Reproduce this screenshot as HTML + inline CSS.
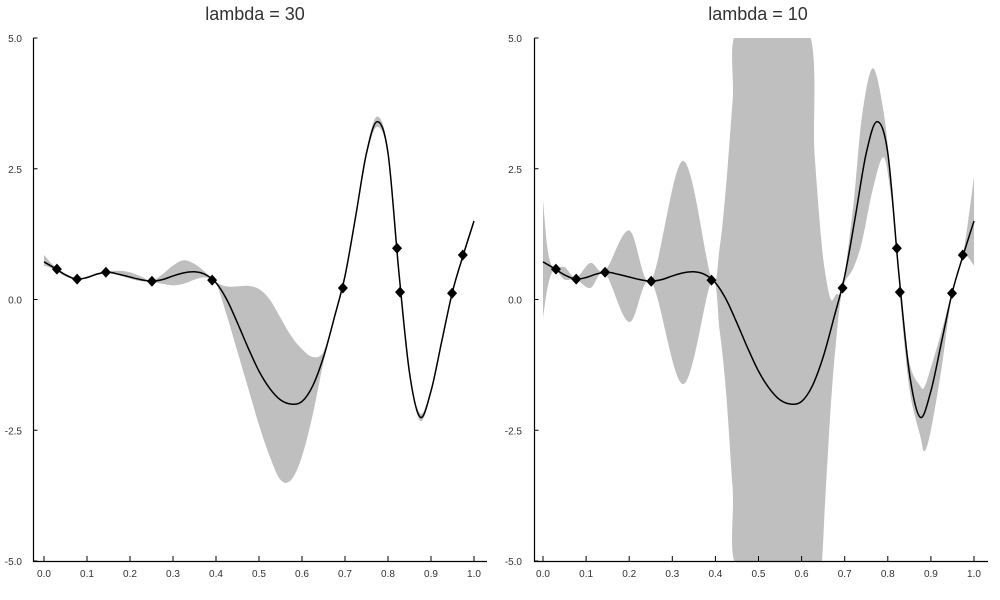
<!DOCTYPE html>
<html><head><meta charset="utf-8"><style>
body{margin:0;background:#fff;}
svg{display:block;font-family:"Liberation Sans",sans-serif;}
</style></head><body>
<svg id="chart" width="1000" height="600" viewBox="0 0 1000 600" xmlns="http://www.w3.org/2000/svg"></svg>
<script>
const meanX = [0,0.025,0.05,0.075,0.1,0.125,0.15,0.175,0.2,0.225,0.25,0.275,0.3,0.325,0.35,0.375,0.4,0.425,0.45,0.475,0.5,0.525,0.55,0.575,0.6,0.625,0.65,0.675,0.7,0.725,0.75,0.775,0.8,0.825,0.85,0.875,0.9,0.925,0.95,0.975,1.0];
const meanY = [0.72,0.60,0.47,0.39,0.42,0.49,0.52,0.48,0.43,0.38,0.35,0.38,0.45,0.51,0.53,0.48,0.32,0.0,-0.45,-0.93,-1.37,-1.70,-1.92,-2.0,-1.95,-1.65,-1.1,-0.35,0.45,1.6,2.8,3.4,2.8,0.55,-1.4,-2.25,-1.75,-0.8,0.15,0.85,1.5];
const upper30 = [0.85,0.63,0.5,0.4,0.44,0.51,0.54,0.55,0.52,0.44,0.36,0.48,0.65,0.75,0.68,0.52,0.33,0.25,0.25,0.26,0.2,0.0,-0.35,-0.7,-0.95,-1.1,-1.0,-0.33,0.5,1.65,2.86,3.5,2.86,0.6,-1.35,-2.18,-1.7,-0.75,0.2,0.9,1.55];
const lower30 = [0.65,0.57,0.44,0.38,0.4,0.47,0.5,0.46,0.4,0.35,0.34,0.3,0.27,0.3,0.38,0.42,0.3,-0.3,-1.0,-1.7,-2.4,-3.0,-3.45,-3.45,-3.0,-2.2,-1.2,-0.4,0.4,1.55,2.74,3.3,2.74,0.5,-1.45,-2.32,-1.8,-0.85,0.1,0.8,1.45];
const band10X = [0,0.01,0.02,0.03,0.05,0.077,0.11,0.144,0.2,0.251,0.325,0.391,0.41,0.425,0.44,0.455,0.612,0.63,0.645,0.655,0.668,0.68,0.695,0.72,0.74,0.765,0.79,0.807,0.822,0.828,0.85,0.875,0.885,0.9,0.925,0.949,0.975,1.0];
const upper10 = [1.9,1.0,0.65,0.6,0.62,0.42,0.7,0.55,1.32,0.37,2.65,0.4,1.0,2.2,3.8,5.2,5.2,2.8,1.2,0.5,0.0,0.1,0.25,1.8,3.5,4.42,3.6,2.34,0.95,0.2,-1.2,-1.65,-1.67,-1.3,-0.6,0.15,0.88,2.35];
const lower10 = [-0.35,0.2,0.5,0.56,0.38,0.38,0.22,0.5,-0.43,0.34,-1.62,0.35,-0.6,-1.8,-3.6,-5.2,-5.2,-5.2,-5.2,-3.8,-2.0,-0.8,0.2,0.6,1.1,2.1,2.72,2.0,0.9,0.1,-1.7,-2.6,-2.9,-2.5,-1.3,0.1,0.82,0.65];
const obsX = [0.030,0.077,0.144,0.251,0.391,0.695,0.821,0.828,0.949,0.974];
const obsY = [0.58,0.39,0.52,0.35,0.37,0.22,0.98,0.14,0.12,0.85];
const xTicks = [0,0.1,0.2,0.3,0.4,0.5,0.6,0.7,0.8,0.9,1.0];
const xTickLabels = ["0.0","0.1","0.2","0.3","0.4","0.5","0.6","0.7","0.8","0.9","1.0"];
const yTicks = [5,2.5,0,-2.5,-5];
const yTickLabels = ["5.0","2.5","0.0","-2.5","-5.0"];
const titles = ["lambda = 30","lambda = 10"];

const NS="http://www.w3.org/2000/svg";
const svg=document.getElementById('chart');
function mk(tag,attrs,parent){const e=document.createElementNS(NS,tag);for(const k in attrs)e.setAttribute(k,attrs[k]);(parent||svg).appendChild(e);return e;}
function curve(pts){let d=`M${pts[0][0]},${pts[0][1]}`;for(let i=0;i<pts.length-1;i++){const p0=pts[Math.max(0,i-1)],p1=pts[i],p2=pts[i+1],p3=pts[Math.min(pts.length-1,i+2)];
const c1=[p1[0]+(p2[0]-p0[0])/6,p1[1]+(p2[1]-p0[1])/6],c2=[p2[0]-(p3[0]-p1[0])/6,p2[1]-(p3[1]-p1[1])/6];
d+=` C${c1[0]},${c1[1]} ${c2[0]},${c2[1]} ${p2[0]},${p2[1]}`;}return d;}

const panels=[{x0:44,x1:474,axL:33.5,axR:487,up:upper30,lo:lower30,bx:meanX,lbl:22,title:titles[0],tx:255},
              {x0:543,x1:974,axL:534.5,axR:988,up:upper10,lo:lower10,bx:band10X,lbl:522,title:titles[1],tx:758}];
const yTop=38,yBot=561;
panels.forEach((p,pi)=>{
  const sx=v=>p.x0+v*(p.x1-p.x0);
  const sy=v=>yBot-(v+5)/10*(yBot-yTop);
  const g=mk('g',{});  
  const cp=mk('clipPath',{id:'clip'+pi},g); mk('rect',{x:p.axL,y:yTop,width:p.axR-p.axL,height:yBot-yTop},cp);
  const upPts=p.bx.map((x,i)=>[sx(x),sy(p.up[i])]);
  const loPts=p.bx.map((x,i)=>[sx(x),sy(p.lo[i])]).reverse();
  const dUp=curve(upPts), dLo=curve(loPts);
  const band=mk('path',{d:dUp+' L'+loPts[0][0]+','+loPts[0][1]+dLo.replace(/^M[^ C]+/,'')+' Z',fill:'#bfbfbf','clip-path':`url(#clip${pi})`},g);
  
  
  const line=mk('path',{d:curve(meanX.map((x,i)=>[sx(x),sy(meanY[i])])),fill:'none',stroke:'#000','stroke-width':1.5,'clip-path':`url(#clip${pi})`},g);
  
  
  obsX.forEach((x,i)=>{const cx=sx(x),cy=sy(obsY[i]);
    const m=mk('path',{d:`M${cx},${cy-5.5} L${cx+5},${cy} L${cx},${cy+5.5} L${cx-5},${cy} Z`,fill:'#000'},g);
    
    });
  const ax=mk('path',{d:`M${p.axL},${yTop} V${yBot+0.5} H${p.axR}`,fill:'none',stroke:'#000','stroke-width':1.2},g);
  
  
  xTicks.forEach((t,i)=>{const x=sx(t);mk('line',{x1:x,x2:x,y1:yBot,y2:yBot-5,stroke:'#000','stroke-width':1},g);
    const tl=mk('text',{x:x,y:yBot+16,'text-anchor':'middle','font-size':10,fill:'#333'},g);tl.textContent=xTickLabels[i];
    
    });
  yTicks.forEach((t,i)=>{const y=sy(t);mk('line',{x1:p.axL,x2:p.axL+4,y1:y,y2:y,stroke:'#000','stroke-width':1},g);
    const tl=mk('text',{x:p.lbl,y:y+4,'text-anchor':'end','font-size':10,fill:'#333'},g);tl.textContent=yTickLabels[i];
    
    });
  const tt=mk('text',{x:p.tx,y:20,'text-anchor':'middle','font-size':18,fill:'#333'},g);tt.textContent=p.title;
  
  
});
</script>
</body></html>
